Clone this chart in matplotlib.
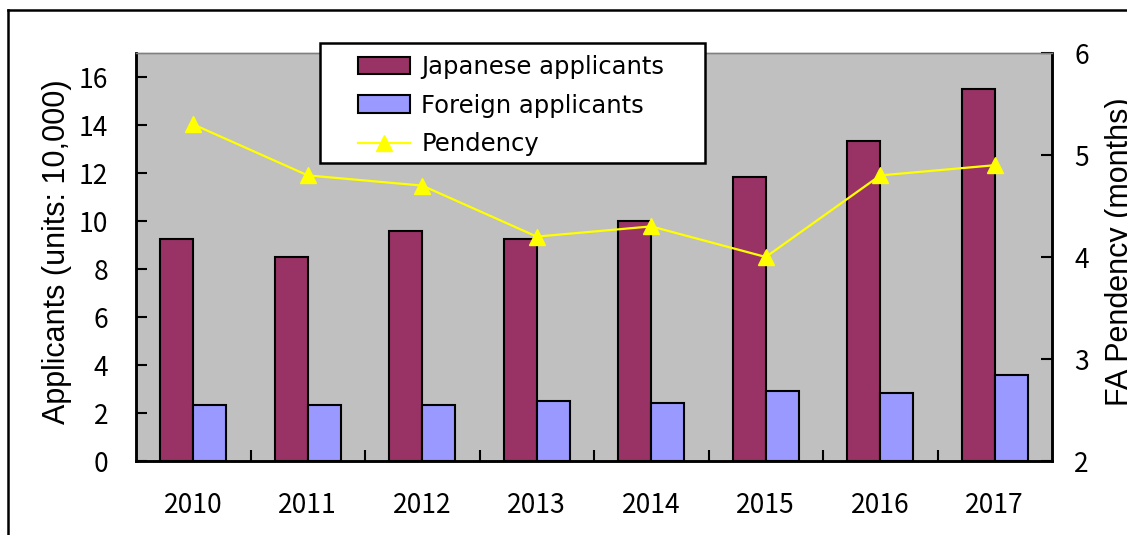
import matplotlib
matplotlib.use("Agg")
import matplotlib.pyplot as plt
import numpy as np
from matplotlib.patches import Rectangle
from matplotlib.lines import Line2D

years = ["2010", "2011", "2012", "2013", "2014", "2015", "2016", "2017"]
japanese = [9.25, 8.5, 9.6, 9.25, 10.0, 11.85, 13.35, 15.5]
foreign = [2.35, 2.35, 2.35, 2.5, 2.42, 2.92, 2.85, 3.6]
pendency = [5.3, 4.8, 4.7, 4.2, 4.3, 4.0, 4.8, 4.9]

W, H = 1127, 535
fig = plt.figure(figsize=(W / 100, H / 100), dpi=100)
fig.patch.set_facecolor("white")

# outer frame (partially visible)
fig.add_artist(Line2D([8 / W, 1.01], [(H - 10) / H, (H - 10) / H],
                      transform=fig.transFigure, color="black", linewidth=1.8))
fig.add_artist(Line2D([8 / W, 8 / W], [-0.01, (H - 10) / H],
                      transform=fig.transFigure, color="black", linewidth=1.8))

ax = fig.add_axes([136 / W, (H - 461) / H, (1052 - 136) / W, (461 - 53) / H])
ax.set_facecolor("#C0C0C0")
ax2 = ax.twinx()

x = np.arange(len(years))
bw = 0.288
b1 = ax.bar(x - bw / 2, japanese, bw, color="#993366", edgecolor="black",
            linewidth=1.5, label="Japanese applicants", zorder=2)
b2 = ax.bar(x + bw / 2, foreign, bw, color="#9999FF", edgecolor="black",
            linewidth=1.5, label="Foreign applicants", zorder=2)
l1, = ax2.plot(x, pendency, color="#FFFF00", linewidth=1.6, marker="^",
               markersize=12, markeredgecolor="#FFFF00", label="Pendency",
               zorder=3)

ax.set_xlim(-0.5, len(years) - 0.5)
ax.set_ylim(0, 17)
ax2.set_ylim(2, 6)

tick_font = "Noto Sans CJK JP"
ax.set_yticks(np.arange(0, 17, 2))
ax.tick_params(axis="y", direction="in", length=8, width=1.5, pad=20,
               labelsize=19)
ax2.set_yticks([2, 3, 4, 5, 6])
ax2.tick_params(axis="y", direction="in", length=8, width=1.5, pad=16,
                labelsize=19)
ax.set_xticks(np.arange(0.5, len(years) - 0.5, 1))
ax.set_xticklabels([])
ax.set_xticks(x, minor=True)
ax.set_xticklabels(years, minor=True)
ax.tick_params(axis="x", which="major", direction="in", length=8, width=1.5)
ax.tick_params(axis="x", which="minor", length=0, pad=22, labelsize=19)
for lab in ax.get_yticklabels() + ax2.get_yticklabels() + ax.get_xticklabels(minor=True):
    lab.set_fontfamily(tick_font)

for a in (ax, ax2):
    for s in ("left", "right", "bottom"):
        a.spines[s].set_linewidth(1.8)
        a.spines[s].set_color("black")
    a.spines["top"].set_color("#808080")
    a.spines["top"].set_linewidth(1.0)

fig.text(42 / W, 0.53, "Applicants (units: 10,000)", rotation=90,
         ha="left", va="center", fontsize=22, family="Liberation Sans")
fig.text(1105 / W, 0.53, "FA Pendency (months)", rotation=90,
         ha="left", va="center", fontsize=22, family="Liberation Sans")

# legend box
fig.add_artist(Rectangle((320 / W, (H - 163) / H), 385 / W, 120 / H,
                         transform=fig.transFigure, facecolor="white",
                         edgecolor="black", linewidth=1.8, zorder=4))
leg = fig.legend([b1, b2, l1],
                 ["Japanese applicants", "Foreign applicants", "Pendency"],
                 loc="upper left",
                 bbox_to_anchor=(358 / W, (H - 55) / H),
                 bbox_transform=fig.transFigure,
                 prop={"family": "DejaVu Sans", "size": 17.5},
                 frameon=False,
                 handlelength=2.15, handleheight=0.74, handletextpad=0.45,
                 labelspacing=0.6, borderpad=0, borderaxespad=0)
leg.set_zorder(6)

fig.savefig("out.png", dpi=100)
